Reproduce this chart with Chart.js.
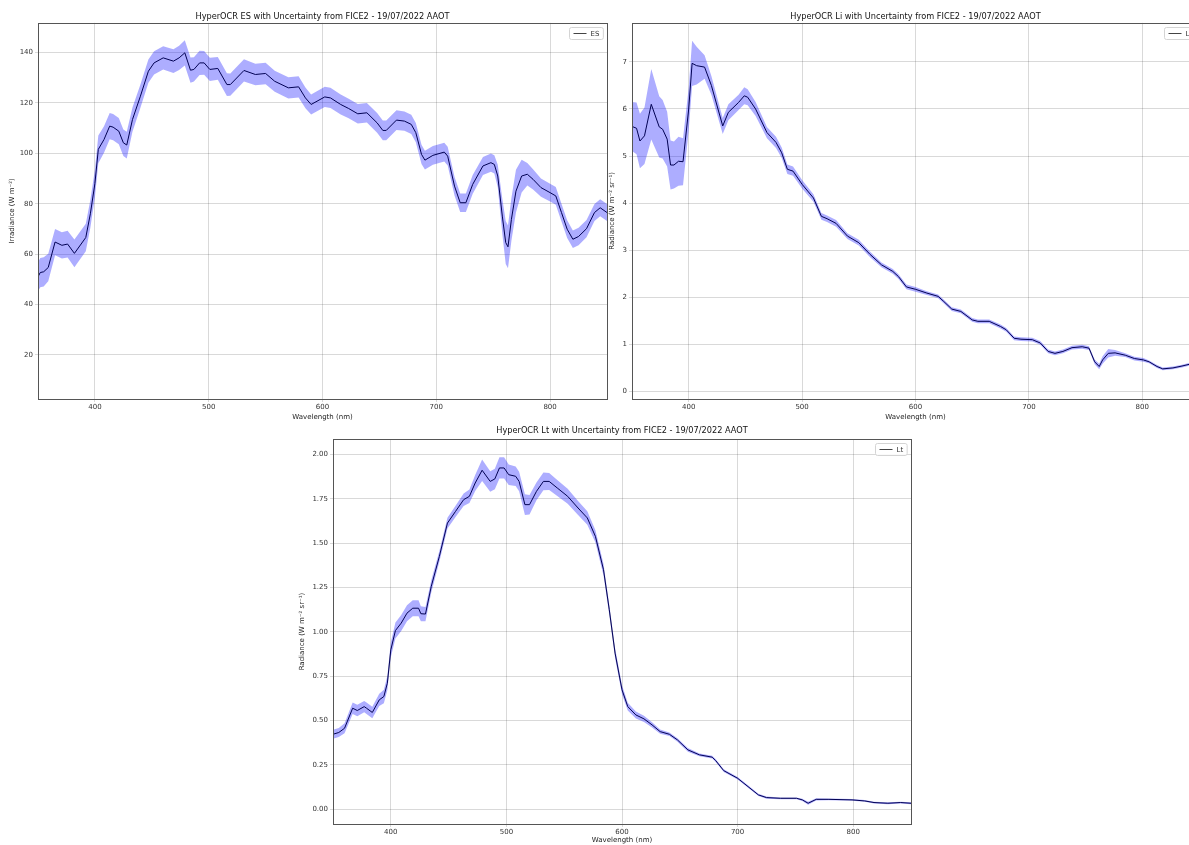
<!DOCTYPE html>
<html>
<head>
<meta charset="utf-8">
<script src="https://cdn.jsdelivr.net/npm/chart.js@4.4.1/dist/chart.umd.min.js"></script>
<style>
  html, body { margin: 0; padding: 0; background: #fff; overflow: hidden; width: 1189px; height: 845px; }
  canvas { position: absolute; }
</style>
</head>
<body>
<canvas id="chartES" width="612" height="422" style="left:0px;top:0px"></canvas>
<canvas id="chartLi" width="605" height="422" style="left:600px;top:0px"></canvas>
<canvas id="chartLt" width="626" height="425" style="left:290px;top:420px"></canvas>
<script>
// ---- data (wavelength in nm) ----
const wavelengthTicks = [400, 500, 600, 700, 800];

// ES irradiance
const esWavelength = [350,352,355,359,365,371,376,382,392,396,
  400,403,408,413,416,421,425,428,433,440,
  447,452,460,469,474,479,484,487,492,496,
  501,508,516,519,531,541,550,558,570,579,
  585,590,602,607,616,623,631,639,648,653,
  656,665,672,678,682,687,690,697,707,710,
  716,721,726,732,741,748,751,754,758,761,
  763,766,770,775,780,785,792,800,805,810,
  815,820,825,832,839,844,850];
const esValues = [51.0,52.7,53.0,54.7,64.8,63.5,64.0,60.3,66.6,76.0,
  88.0,101.6,105.5,110.8,110.4,108.8,104.2,103.3,113.4,122.7,
  132.6,135.9,137.9,136.6,137.9,139.9,133.0,133.3,135.9,135.9,
  133.3,133.7,127.3,127.3,132.9,131.3,131.7,128.6,126.0,126.4,
  122.0,119.4,122.4,122.0,119.4,117.8,115.7,116.1,112.1,109.1,
  109.1,113.2,112.8,111.5,108.2,99.6,97.3,99.2,100.5,98.9,
  87.0,80.4,80.4,87.7,95.0,96.3,95.6,91.0,75.1,64.6,
  62.9,73.8,85.0,91.0,91.7,89.7,86.4,84.4,83.1,76.5,
  69.9,65.9,67.0,70.1,76.5,78.4,76.5];
const esUnc = [5.8,5.8,5.8,5.5,5.2,5.2,5.3,5.5,5.5,5.5,
  5.5,5.5,5.3,5.2,5.2,5.2,5.3,5.3,4.8,4.6,
  4.6,4.6,4.6,4.7,4.8,5.0,5.0,4.8,4.8,4.7,
  4.6,4.5,4.5,4.4,4.4,4.3,4.3,4.2,4.2,4.2,
  4.1,4.0,4.0,4.0,4.0,3.9,3.9,3.9,3.9,3.9,
  3.9,3.9,3.8,3.8,3.8,3.8,3.7,3.7,3.7,3.7,
  3.7,3.7,3.7,3.7,3.6,3.6,3.6,4.5,7.0,8.5,
  8.5,8.5,8.5,6.5,4.5,4.0,3.6,3.5,3.5,3.5,
  3.5,3.5,3.5,3.4,3.4,3.4,3.4];
const esTicks = [20, 40, 60, 80, 100, 120, 140];

// Li radiance
const liWavelength = [350,354,357,361,367,374,377,381,384,387,
  391,395,400,403,407,414,420,430,435,444,
  449,452,459,469,477,482,487,492,500,510,
  517,522,530,540,550,560,570,580,585,592,
  600,610,620,625,632,640,650,655,665,675,
  680,687,693,703,710,717,723,730,738,747,
  753,758,762,765,770,776,785,793,801,806,
  813,818,827,835,842,850];
const liValues = [5.63,5.59,5.32,5.43,6.10,5.62,5.57,5.36,4.81,4.81,
  4.89,4.88,6.00,6.97,6.92,6.89,6.50,5.64,5.93,6.14,
  6.28,6.25,6.00,5.50,5.29,5.07,4.72,4.68,4.40,4.11,
  3.72,3.67,3.57,3.30,3.16,2.91,2.69,2.55,2.44,2.22,
  2.17,2.09,2.02,1.91,1.75,1.70,1.52,1.49,1.49,1.38,
  1.31,1.13,1.11,1.10,1.03,0.85,0.81,0.85,0.93,0.95,
  0.92,0.63,0.53,0.67,0.81,0.82,0.77,0.70,0.67,0.63,
  0.53,0.48,0.50,0.54,0.58,0.60];
const liUnc = [0.52,0.55,0.58,0.60,0.75,0.65,0.62,0.58,0.52,0.50,
  0.52,0.50,0.45,0.48,0.40,0.25,0.20,0.17,0.17,0.16,
  0.18,0.17,0.15,0.12,0.12,0.11,0.10,0.10,0.09,0.08,
  0.07,0.07,0.07,0.06,0.06,0.06,0.05,0.05,0.05,0.05,
  0.05,0.04,0.04,0.04,0.04,0.04,0.04,0.04,0.04,0.04,
  0.04,0.04,0.04,0.04,0.04,0.04,0.04,0.04,0.04,0.04,
  0.04,0.05,0.06,0.08,0.09,0.06,0.04,0.04,0.04,0.03,
  0.03,0.03,0.03,0.03,0.03,0.03];
const liTicks = [0, 1, 2, 3, 4, 5, 6, 7];

// Lt radiance
const ltWavelength = [350,355,360,367,371,377,379,384,390,394,
  397,400,404,409,414,419,424,426,430,435,
  442,449,456,463,468,473,479,486,490,494,
  498,502,508,511,516,520,526,532,537,544,
  553,562,570,577,584,589,594,600,605,612,
  619,626,633,641,648,657,667,678,681,688,
  700,709,718,725,737,751,756,761,768,779,
  799,810,818,830,841,850];
const ltValues = [0.423,0.433,0.457,0.570,0.557,0.579,0.570,0.546,0.617,0.636,
  0.711,0.899,1.008,1.050,1.106,1.134,1.134,1.103,1.101,1.257,
  1.426,1.614,1.680,1.746,1.765,1.840,1.912,1.849,1.863,1.925,
  1.925,1.887,1.878,1.849,1.718,1.718,1.793,1.849,1.849,1.812,
  1.765,1.699,1.643,1.539,1.351,1.125,0.881,0.674,0.579,0.532,
  0.510,0.476,0.438,0.423,0.391,0.335,0.307,0.294,0.275,0.218,
  0.175,0.128,0.081,0.066,0.062,0.062,0.053,0.034,0.056,0.056,
  0.053,0.047,0.038,0.034,0.038,0.034];
const ltUnc = [0.025,0.025,0.028,0.032,0.032,0.032,0.032,0.032,0.035,0.038,
  0.040,0.042,0.045,0.045,0.045,0.045,0.045,0.042,0.040,0.035,
  0.030,0.030,0.032,0.035,0.038,0.045,0.060,0.058,0.058,0.060,
  0.060,0.058,0.055,0.055,0.058,0.055,0.050,0.050,0.048,0.045,
  0.042,0.040,0.038,0.035,0.032,0.030,0.028,0.025,0.022,0.020,
  0.018,0.015,0.012,0.010,0.010,0.010,0.008,0.008,0.008,0.008,
  0.007,0.007,0.006,0.006,0.005,0.005,0.006,0.008,0.006,0.005,
  0.005,0.005,0.005,0.005,0.005,0.005];
const ltTicks = [0, 0.25, 0.5, 0.75, 1.0, 1.25, 1.5, 1.75, 2.0];

// ---- styling ----
Chart.defaults.font.family = '"DejaVu Sans", sans-serif';
const FONT = '"DejaVu Sans", sans-serif';
const gridColor = 'rgba(0,0,0,0.15)';
const bandColor = 'rgba(0,0,255,0.32)';

// matplotlib-like frame + legend box in upper right
const framePlugin = {
  id: 'mplFrame',
  afterDraw(chart) {
    const { ctx, chartArea: a } = chart;
    ctx.save();
    ctx.strokeStyle = '#555';
    ctx.lineWidth = 1;
    ctx.strokeRect(Math.round(a.left) + 0.5, Math.round(a.top) + 0.5,
      Math.round(a.right - a.left), Math.round(a.bottom - a.top));

    const label = chart.data.datasets[2].label;
    ctx.font = '7px ' + FONT;
    const tw = ctx.measureText(label).width;
    const w = tw + 25, h = 12;
    const x = Math.round(a.right - w - 4) + 0.5, y = Math.round(a.top + 4) + 0.5;
    ctx.fillStyle = 'rgba(255,255,255,0.85)';
    ctx.strokeStyle = '#d4d4d4';
    ctx.beginPath();
    ctx.roundRect(x, y, w, h, 2);
    ctx.fill();
    ctx.stroke();
    ctx.strokeStyle = '#444';
    ctx.beginPath();
    ctx.moveTo(x + 4, y + h / 2);
    ctx.lineTo(x + 17, y + h / 2);
    ctx.stroke();
    ctx.fillStyle = '#333';
    ctx.textBaseline = 'middle';
    ctx.fillText(label, x + 21, y + h / 2 + 0.5);
    ctx.restore();
  }
};

function makeSpectrum(id, opt) {
  const upper = opt.wl.map((w, i) => ({ x: w, y: opt.values[i] + opt.unc[i] }));
  const lower = opt.wl.map((w, i) => ({ x: w, y: opt.values[i] - opt.unc[i] }));
  const main = opt.wl.map((w, i) => ({ x: w, y: opt.values[i] }));
  return new Chart(document.getElementById(id), {
    type: 'line',
    data: {
      datasets: [
        { label: 'upper', data: upper, borderWidth: 0, pointRadius: 0, fill: '+1', backgroundColor: bandColor },
        { label: 'lower', data: lower, borderWidth: 0, pointRadius: 0, fill: false },
        { label: opt.label, data: main, borderColor: '#000', borderWidth: 1, pointRadius: 0, fill: false, tension: 0 }
      ]
    },
    options: {
      responsive: false,
      animation: false,
      devicePixelRatio: 1,
      events: [],
      layout: { padding: { left: 0, right: opt.padRight, top: 0, bottom: 0 } },
      plugins: {
        legend: { display: false },
        tooltip: { enabled: false },
        title: {
          display: true, fullSize: false, text: opt.title, color: '#111',
          font: { size: 8.2, weight: 'normal' },
          padding: { top: opt.titleTop, bottom: opt.titleBottom }
        }
      },
      scales: {
        x: {
          type: 'linear', min: 350, max: 850,
          afterBuildTicks: s => { s.ticks = wavelengthTicks.map(v => ({ value: v })); },
          afterFit: s => { s.height = opt.xH; },
          grid: { color: gridColor, tickLength: 3 },
          border: { display: false },
          ticks: { color: '#333', font: { size: 7 }, padding: 1, maxRotation: 0 },
          title: { display: true, text: 'Wavelength (nm)', color: '#222', font: { size: 7 }, padding: { top: 0, bottom: 1 } }
        },
        y: {
          type: 'linear', min: opt.yMin, max: opt.yMax,
          afterBuildTicks: s => { s.ticks = opt.yTicks.map(v => ({ value: v })); },
          afterFit: s => { s.width = opt.yW; },
          grid: { color: gridColor, tickLength: 3 },
          border: { display: false },
          ticks: { color: '#333', font: { size: 7 }, padding: 2, callback: opt.fmt },
          title: { display: true, text: opt.yTitle, color: '#222', font: { size: 7 }, padding: { top: opt.yTitlePad, bottom: 0 } }
        }
      }
    },
    plugins: [framePlugin]
  });
}

makeSpectrum('chartES', {
  wl: esWavelength, values: esValues, unc: esUnc, label: 'ES',
  title: 'HyperOCR ES with Uncertainty from FICE2 - 19/07/2022 AAOT',
  yTitle: 'Irradiance (W m\u207B\u00B2)', yTicks: esTicks, yMin: 2.5, yMax: 151.8,
  fmt: v => String(v), yW: 38, xH: 23, padRight: 5, titleTop: 12.4, titleBottom: 0.6, yTitlePad: 8
});

makeSpectrum('chartLi', {
  wl: liWavelength, values: liValues, unc: liUnc, label: 'Li',
  title: 'HyperOCR Li with Uncertainty from FICE2 - 19/07/2022 AAOT',
  yTitle: 'Radiance (W m\u207B\u00B2 sr\u207B\u00B9)', yTicks: liTicks, yMin: -0.16, yMax: 7.83,
  fmt: v => String(v), yW: 32, xH: 23, padRight: 6, titleTop: 12.4, titleBottom: 0.6, yTitlePad: 8
});

makeSpectrum('chartLt', {
  wl: ltWavelength, values: ltValues, unc: ltUnc, label: 'Lt',
  title: 'HyperOCR Lt with Uncertainty from FICE2 - 19/07/2022 AAOT',
  yTitle: 'Radiance (W m\u207B\u00B2 sr\u207B\u00B9)', yTicks: ltTicks, yMin: -0.083, yMax: 2.088,
  fmt: v => v.toFixed(2), yW: 43, xH: 21, padRight: 5, titleTop: 6, titleBottom: 3.2, yTitlePad: 8
});
</script>
</body>
</html>
